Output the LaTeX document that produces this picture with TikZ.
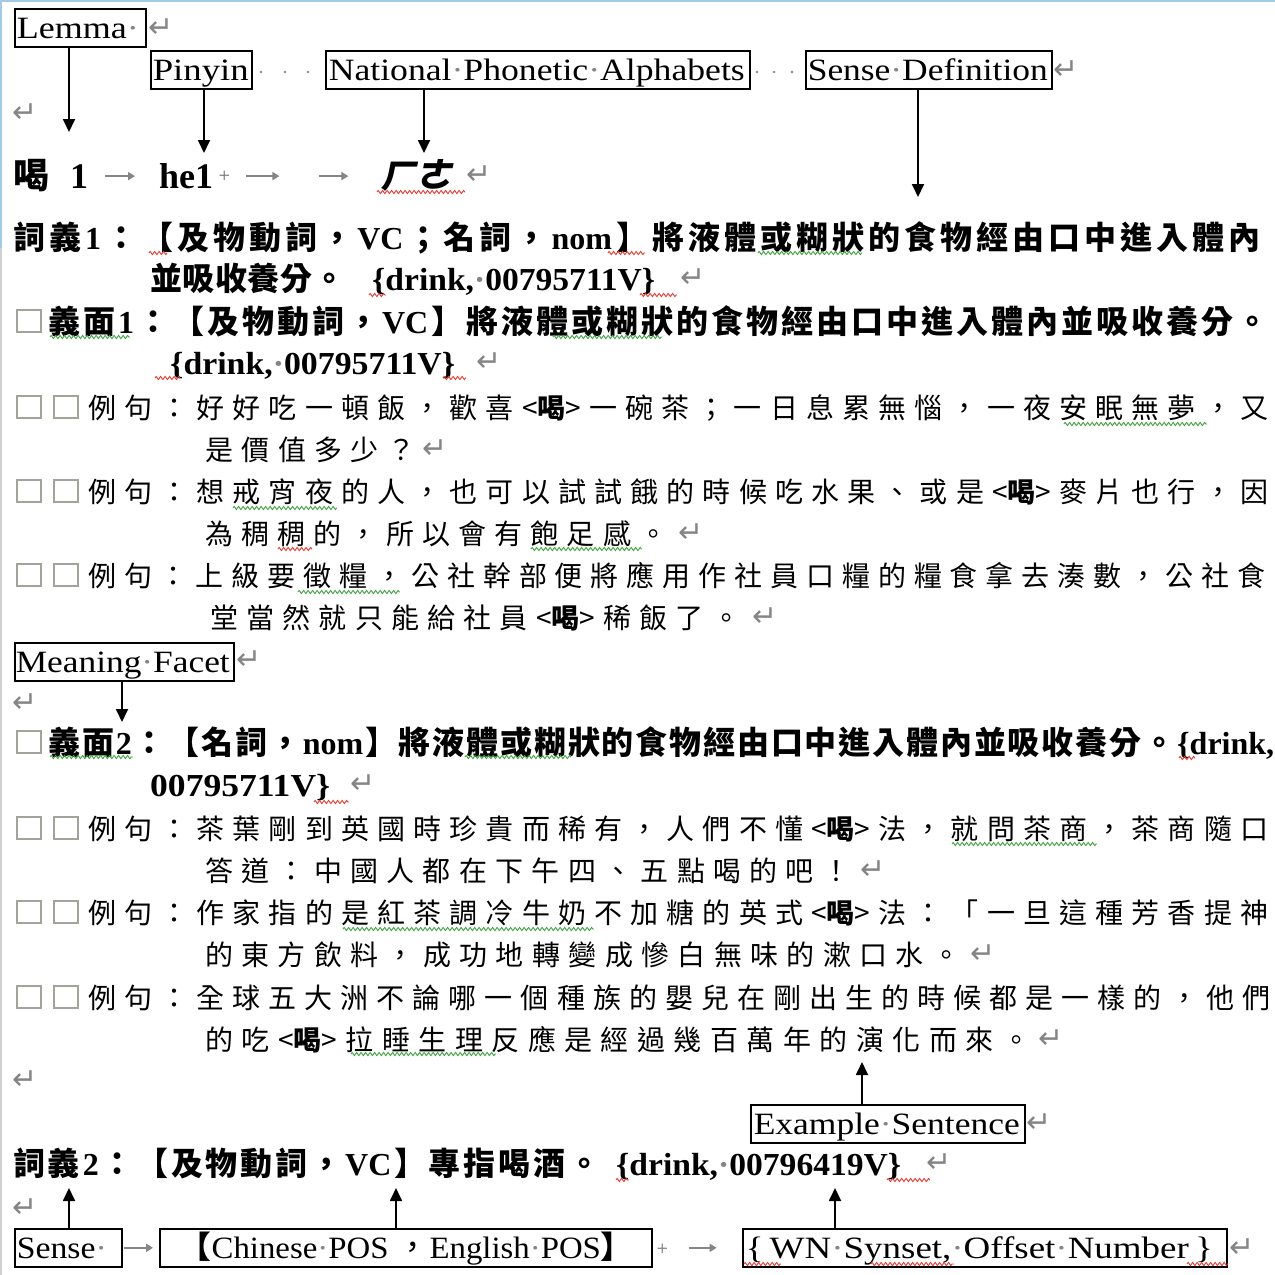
\documentclass[tikz,border=0pt]{standalone}
\usepackage{fontspec}
\usepackage{graphicx}
\usetikzlibrary{arrows.meta,decorations.pathmorphing}
\setmainfont{Liberation Serif}
\newfontfamily\cjk{Noto Sans CJK TC}
\newfontfamily\cjkit{Noto Sans CJK TC}[FakeSlant=0.2]
\newfontfamily\sym{DejaVu Sans}

\definecolor{markgray}{HTML}{858585}
\definecolor{wavyred}{HTML}{E53A2F}
\definecolor{wavygreen}{HTML}{3FA43F}
\definecolor{sqgray}{HTML}{A3A39B}
\definecolor{edgeblue}{HTML}{A3CBE6}

% spread a list of glyphs evenly over a given width
\makeatletter
\newcommand\spreadto[2]{\makebox[#1][s]{\@tfor\sp@item:=#2\do{\sp@item\hfil}\unskip}}
\makeatother
\newcommand\lat[1]{{\rmfamily #1}}
\newcommand\heb{{\bfseries 喝}}
\newcommand\sdot{{\color{markgray}·}}
\newcommand\boxtext[4]{\makebox[#1][l]{\hspace*{#3}\resizebox{#2}{\height}{#4}}}
\newcommand\syn[2]{\resizebox{#1}{\height}{\rmfamily\bfseries #2}}

\begin{document}
\begin{tikzpicture}[x=1pt,y=-1pt,
  lbl/.style={draw, line width=1.6pt, inner xsep=0pt, inner ysep=2.5pt,
    text height=27pt, text depth=6pt, anchor=north west,
    font=\fontsize{31}{33}\selectfont},
  conn/.style={line width=1.8pt, -{Triangle[length=13pt,width=12pt]}},
  tabarrow/.style={draw=markgray, line width=1.8pt, -{Triangle[length=7pt,width=8pt]}},
  pm/.style={anchor=west, inner sep=0pt, text=markgray, font=\sym\fontsize{30}{30}\selectfont},
  tplus/.style={anchor=west, inner sep=0pt, text=markgray, font=\sym\fontsize{15}{15}\selectfont},
  bl/.style={anchor=base west, inner sep=0pt, font=\fontsize{32}{32}\selectfont\cjk\bfseries},
  rl/.style={anchor=base west, inner sep=0pt, font=\fontsize{28}{28}\selectfont\cjk},
  sqbox/.style={draw=sqgray, line width=2.6pt, minimum width=24pt, minimum height=22pt, inner sep=0pt},
  wavy/.style={decorate, decoration={zigzag, segment length=4.5pt, amplitude=1.6pt}, line width=0.9pt},
  leader/.style={fill=markgray}
]
\useasboundingbox (0,0) rectangle (1275,1275);
\fill[white] (0,0) rectangle (1275,1275);
\draw[edgeblue, line width=2.5pt] (0,1) -- (1275,1);
\draw[edgeblue, line width=2pt] (1,0) -- (1,248);
\draw[black!18, line width=1.5pt] (1,248) -- (1,1275);

% ---------- header labels ----------
\node[lbl] (lemma) at (14,8) {\boxtext{131pt}{122pt}{2pt}{Lemma\sdot}};
\node[pm] (pm1) at (148,28) {↵};
\node[lbl] (pinyin) at (150,50) {\boxtext{101pt}{96pt}{2pt}{Pinyin}};
\node[lbl] (npa) at (325,50) {\boxtext{424pt}{416pt}{3pt}{National\sdot Phonetic\sdot Alphabets}};
\node[lbl] (sdef) at (805,50) {\boxtext{246pt}{240pt}{2pt}{Sense\sdot Definition}};
\node[pm] (pm2) at (1053,70) {↵};
\foreach \x in {261,285,308,757,774,792} \fill[leader] (\x,72) circle (1.4pt);
\node[pm] (pm3) at (12,113) {↵};

% ---------- lemma line ----------
\node[anchor=base west, inner sep=0pt, font=\fontsize{36}{36}\selectfont\cjk\bfseries] (he) at (13,188) {喝};
\node[anchor=base west, inner sep=0pt, font=\fontsize{36}{36}\selectfont\bfseries] (one) at (70,188) {1};
\node[anchor=base west, inner sep=0pt, font=\fontsize{36}{36}\selectfont\bfseries] (hen) at (159,188) {he1};
\node[tplus] (tp1) at (218,176) {+};
\node[anchor=base west, inner sep=0pt, font=\fontsize{36}{36}\selectfont\cjkit\bfseries] (bpmf) at (380,188) {ㄏㄜ};
\node[pm] (pm4) at (466,175) {↵};
\draw[tabarrow] ([xshift=17pt]one.east) -- ([xshift=-24pt]hen.west |- one.east);
\draw[tabarrow] ([xshift=33pt]hen.east |- one.east) -- ++(33,0);
\draw[tabarrow] ([xshift=106pt]hen.east |- one.east) -- ++(29,0);

\coordinate (lemmaT) at (69,132);
\coordinate (pinT) at (204,153);
\coordinate (npaT) at (424,153);
\coordinate (sdT) at (918,197);
\draw[conn] (lemma.south -| lemmaT) -- (lemmaT);
\draw[conn] (pinyin.south -| pinT) -- (pinT);
\draw[conn] (npa.south -| npaT) -- (npaT);
\draw[conn] (sdef.south -| sdT) -- (sdT);

% ---------- sense 1 ----------
\node[bl] (s1a) at (13,249) {\spreadto{1247pt}{詞 義 {\lat{1}} ： 【 及 物 動 詞 ， {\lat{VC}} ； 名 詞 ， {\lat{nom}} 】 將 液 體 或 糊 狀 的 食 物 經 由 口 中 進 入 體 內}};
\node[bl] (s1b) at (150,290) {\spreadto{195pt}{並 吸 收 養 分 。}};
\node[bl] (s1c) at (372,290) {\syn{283pt}{\{drink,\sdot 00795711V\}}};
\node[pm] (pm5) at (680,278) {↵};

% ---------- meaning facet 1 ----------
\node[sqbox] (q1) at (29,321) {};
\node[bl] (f1a) at (48,333) {\spreadto{1220pt}{義 面 {\lat{1}} ： 【 及 物 動 詞 ， {\lat{VC}} 】 將 液 體 或 糊 狀 的 食 物 經 由 口 中 進 入 體 內 並 吸 收 養 分 。}};
\node[bl] (f1b) at (170,374) {\syn{285pt}{\{drink,\sdot 00795711V\}}};
\node[pm] (pm6) at (476,362) {↵};

% examples of facet 1
\node[sqbox] (q2a) at (29,407) {};
\node[sqbox] (q2b) at (66,407) {};
\node[rl] (e1a) at (88,418) {\spreadto{1180pt}{例 句 ： 好 好 吃 一 頓 飯 ， 歡 喜 {<\heb>} 一 碗 茶 ； 一 日 息 累 無 惱 ， 一 夜 安 眠 無 夢 ， 又}};
\node[rl] (e1b) at (205,460) {\spreadto{210pt}{是 價 值 多 少 ？}};
\node[pm] (pm7) at (422,449) {↵};

\node[sqbox] (q3a) at (29,491) {};
\node[sqbox] (q3b) at (66,491) {};
\node[rl] (e2a) at (88,502) {\spreadto{1180pt}{例 句 ： 想 戒 宵 夜 的 人 ， 也 可 以 試 試 餓 的 時 候 吃 水 果 、 或 是 {<\heb>} 麥 片 也 行 ， 因}};
\node[rl] (e2b) at (205,544) {\spreadto{462pt}{為 稠 稠 的 ， 所 以 會 有 飽 足 感 。}};
\node[pm] (pm8) at (678,533) {↵};

\node[sqbox] (q4a) at (29,575) {};
\node[sqbox] (q4b) at (66,575) {};
\node[rl] (e3a) at (88,586) {\spreadto{1177pt}{例 句 ： 上 級 要 徵 糧 ， 公 社 幹 部 便 將 應 用 作 社 員 口 糧 的 糧 食 拿 去 湊 數 ， 公 社 食}};
\node[rl] (e3b) at (210,628) {\spreadto{530pt}{堂 當 然 就 只 能 給 社 員 {<\heb>} 稀 飯 了 。}};
\node[pm] (pm9) at (752,617) {↵};

% ---------- meaning facet 2 ----------
\node[lbl] (mf) at (14,642) {\boxtext{219pt}{214pt}{1pt}{Meaning\sdot Facet}};
\node[pm] (pm10) at (236,660) {↵};
\node[pm] (pm11) at (12,703) {↵};
\coordinate (mfT) at (122,722);
\draw[conn] (mf.south -| mfT) -- (mfT);

\node[sqbox] (q5) at (29,742) {};
\node[bl] (f2a) at (48,754) {\spreadto{1226pt}{義 面 {\lat{2}} ： 【 名 詞 ， {\lat{nom}} 】 將 液 體 或 糊 狀 的 食 物 經 由 口 中 進 入 體 內 並 吸 收 養 分 。 {\lat{\{drink,}}}};
\node[bl] (f2b) at (150,796) {\syn{180pt}{00795711V\}}};
\node[pm] (pm12) at (350,784) {↵};

\node[sqbox] (q6a) at (29,828) {};
\node[sqbox] (q6b) at (66,828) {};
\node[rl] (e4a) at (88,839) {\spreadto{1180pt}{例 句 ： 茶 葉 剛 到 英 國 時 珍 貴 而 稀 有 ， 人 們 不 懂 {<\heb>} 法 ， 就 問 茶 商 ， 茶 商 隨 口}};
\node[rl] (e4b) at (205,881) {\spreadto{645pt}{答 道 ： 中 國 人 都 在 下 午 四 、 五 點 喝 的 吧 ！}};
\node[pm] (pm13) at (860,870) {↵};

\node[sqbox] (q7a) at (29,912) {};
\node[sqbox] (q7b) at (66,912) {};
\node[rl] (e5a) at (88,923) {\spreadto{1180pt}{例 句 ： 作 家 指 的 是 紅 茶 調 冷 牛 奶 不 加 糖 的 英 式 {<\heb>} 法 ： 「 一 旦 這 種 芳 香 提 神}};
\node[rl] (e5b) at (205,965) {\spreadto{755pt}{的 東 方 飲 料 ， 成 功 地 轉 變 成 慘 白 無 味 的 漱 口 水 。}};
\node[pm] (pm14) at (970,954) {↵};

\node[sqbox] (q8a) at (29,997) {};
\node[sqbox] (q8b) at (66,997) {};
\node[rl] (e6a) at (88,1008) {\spreadto{1182pt}{例 句 ： 全 球 五 大 洲 不 論 哪 一 個 種 族 的 嬰 兒 在 剛 出 生 的 時 候 都 是 一 樣 的 ， 他 們}};
\node[rl] (e6b) at (205,1050) {\spreadto{825pt}{的 吃 {<\heb>} 拉 睡 生 理 反 應 是 經 過 幾 百 萬 年 的 演 化 而 來 。}};
\node[pm] (pm15) at (1038,1039) {↵};
\node[pm] (pm16) at (12,1080) {↵};

% ---------- example sentence label ----------
\node[lbl] (exs) at (750,1104) {\boxtext{274pt}{266pt}{3pt}{Example\sdot Sentence}};
\node[pm] (pm17) at (1026,1123) {↵};
\coordinate (exT) at (862,1062);
\draw[conn] (exs.north -| exT) -- (exT);

% ---------- sense 2 ----------
\node[bl] (s2a) at (13,1175) {\spreadto{587pt}{詞 義 {\lat{2}} ： 【 及 物 動 詞 ， {\lat{VC}} 】 專 指 喝 酒 。}};
\node[bl] (s2b) at (616,1175) {\syn{285pt}{\{drink,\sdot 00796419V\}}};
\node[pm] (pm18) at (926,1163) {↵};
\node[pm] (pm19) at (12,1208) {↵};

% ---------- bottom labels ----------
\node[lbl] (sense) at (14,1228) {\boxtext{107pt}{90pt}{2pt}{Sense\sdot}};
\node[lbl] (pos) at (159,1228) {\boxtext{492pt}{455pt}{19pt}{{\cjk\bfseries 【}Chinese\sdot POS {\cjk ，}English\sdot POS{\cjk\bfseries 】}}};
\node[lbl] (wn) at (742,1228) {\boxtext{484pt}{467pt}{3pt}{\{\,WN\sdot Synset,\sdot Offset\sdot Number\,\}}};
\node[pm] (pm20) at (1229,1248) {↵};
\node[tplus] (tp2) at (656,1249) {+};
\draw[tabarrow, shorten <=1pt, shorten >=6pt] (sense.east) -- (pos.west);
\draw[tabarrow] ([xshift=36pt]pos.east) -- ++(28,0);

\coordinate (senseT) at (69,1188);
\coordinate (posT) at (396,1188);
\coordinate (wnT) at (835,1188);
\draw[conn] (sense.north -| senseT) -- (senseT);
\draw[conn] (pos.north -| posT) -- (posT);
\draw[conn] (wn.north -| wnT) -- (wnT);

% ---------- proofing underlines ----------
\foreach \a/\b/\y in {377/465/192, 149/167/253, 608/645/253, 369/386/295, 640/677/295,
    155/180/378, 443/466/378, 278/312/549, 1179/1195/758, 314/349/802,
    616/629/1180, 887/930/1180, 744/781/1264, 871/954/1264, 1187/1228/1264}
  \draw[wavy, wavyred] (\a,\y) -- (\b,\y);
\foreach \a/\b/\y in {758/862/253, 50/130/337, 553/662/337, 1064/1207/424, 233/337/508,
    531/642/549, 298/400/592, 50/133/757, 465/571/757, 952/1097/844,
    343/594/929, 351/496/1054}
  \draw[wavy, wavygreen] (\a,\y) -- (\b,\y);
\end{tikzpicture}
\end{document}
